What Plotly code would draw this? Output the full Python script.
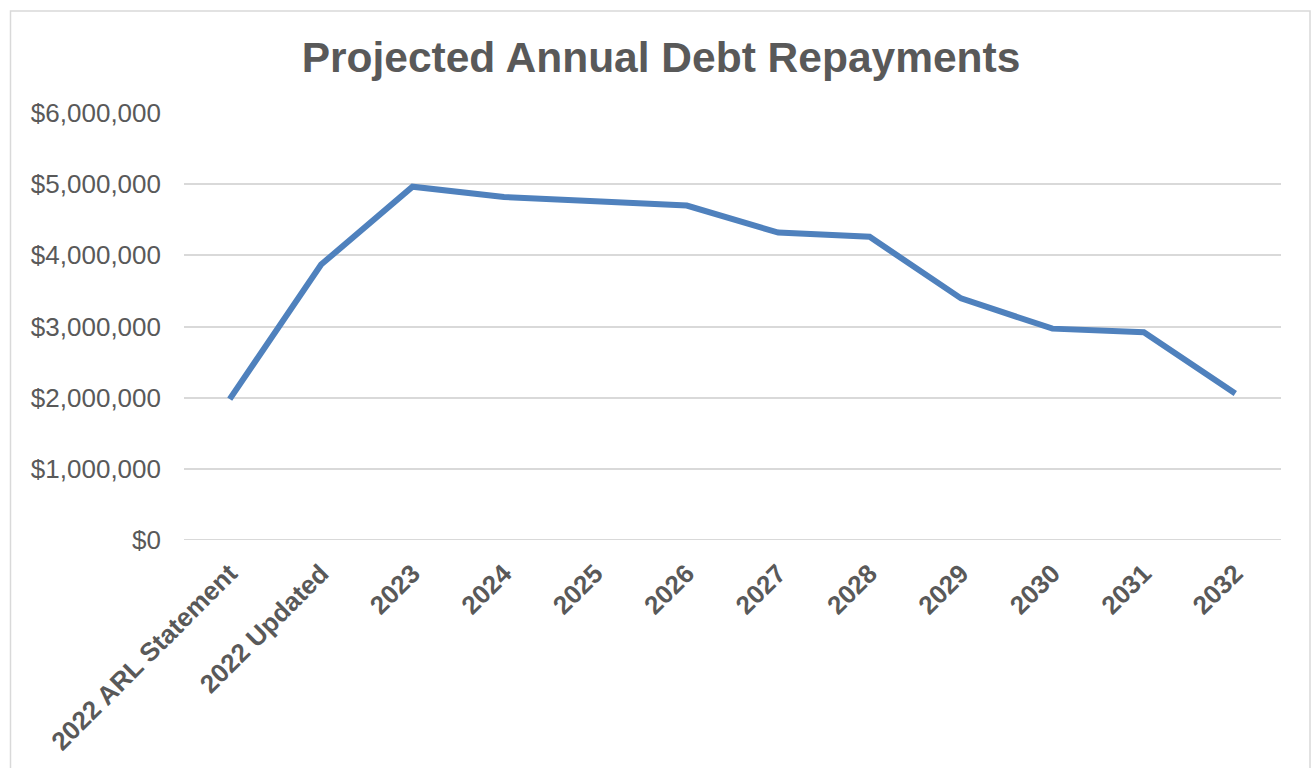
import plotly.graph_objects as go

# Projected repayment schedule
categories = ["2022 ARL Statement", "2022 Updated", "2023", "2024", "2025", "2026",
              "2027", "2028", "2029", "2030", "2031", "2032"]
repayments = [1980000, 3870000, 4965000, 4820000, 4760000, 4700000,
              4320000, 4260000, 3395000, 2970000, 2920000, 2060000]
y_ticks = [0, 1000000, 2000000, 3000000, 4000000, 5000000, 6000000]
y_tick_labels = ["$0", "$1,000,000", "$2,000,000", "$3,000,000",
                 "$4,000,000", "$5,000,000", "$6,000,000"]

W, H = 1311, 768
L, R, T, B = 184, 30, 112.5, 228
PW = W - L - R
PH = H - T - B

def px_x(p):
    return (p - L) / PW

def px_y(p):
    return 1 - (p - T) / PH

TEXT = "#595959"
GRID = "#D9D9D9"
FONT = "Liberation Sans, Arial, sans-serif"

fig = go.Figure()
fig.add_trace(go.Scatter(
    x=categories, y=repayments, mode="lines",
    line=dict(color="#4F81BD", width=6),
    hoverinfo="skip", showlegend=False,
))

fig.update_layout(
    width=W, height=H,
    margin=dict(l=L, r=R, t=T, b=B),
    paper_bgcolor="white", plot_bgcolor="white",
    font=dict(family=FONT, color=TEXT),
    title=dict(
        text="<b>Projected Annual Debt Repayments</b>",
        font=dict(size=42.5, color=TEXT, family=FONT),
        x=661 / W, xanchor="center", xref="container",
        y=1 - 57 / H, yanchor="middle", yref="container",
    ),
    xaxis=dict(
        type="category", range=[-0.5, len(categories) - 0.5],
        tickangle=-45, showgrid=False, zeroline=False,
        showline=False, ticks="", tickfont=dict(size=26, color=TEXT, family=FONT),
        ticklabelstandoff=12,
        tickprefix="<b>", ticksuffix="</b>",
    ),
    yaxis=dict(
        range=[0, 6000000], tickvals=y_ticks, ticktext=y_tick_labels,
        showgrid=True, gridcolor=GRID, gridwidth=2, zeroline=False,
        showline=False, ticks="", tickfont=dict(size=26, color=TEXT, family=FONT),
        ticklabelstandoff=22,
    ),
    shapes=[
        # $0 baseline drawn like the other gridlines
        dict(type="line", xref="paper", yref="y", x0=0, x1=1, y0=0, y1=0,
             line=dict(color=GRID, width=2), layer="below"),
        # chart frame
        dict(type="rect", xref="paper", yref="paper",
             x0=px_x(10.5), x1=px_x(1310), y0=px_y(800), y1=px_y(10.5),
             line=dict(color=GRID, width=1.5), fillcolor="rgba(0,0,0,0)", layer="below"),
    ],
)

fig.write_html("out.html")
